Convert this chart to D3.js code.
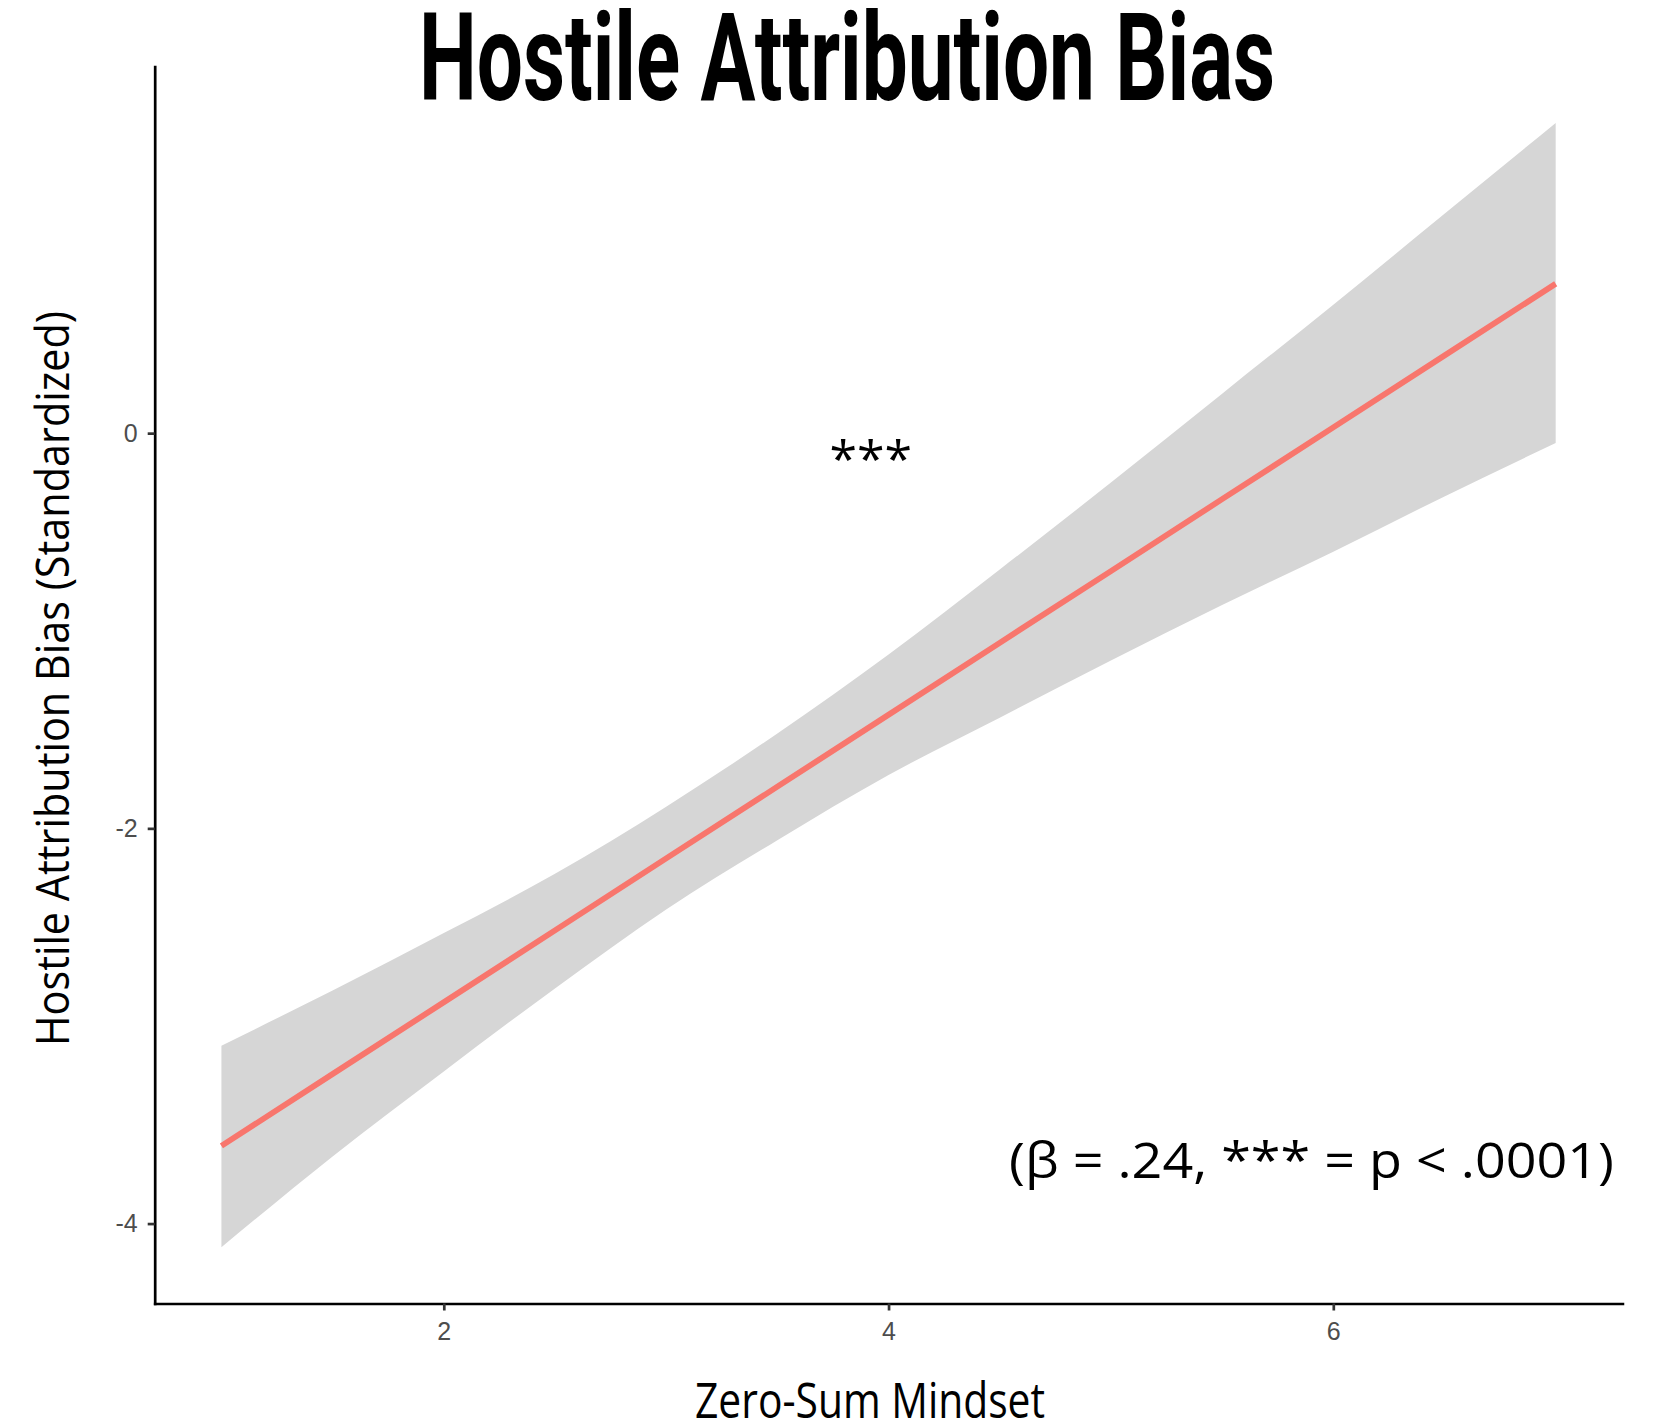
<!DOCTYPE html>
<html>
<head>
<meta charset="utf-8">
<script src="https://cdn.jsdelivr.net/npm/d3@7/dist/d3.min.js"></script>
<style>
  html, body { margin: 0; padding: 0; background: #ffffff; }
  svg { display: block; }
</style>
</head>
<body>
<svg id="chart" width="1656" height="1428"></svg>
<script>
// ---- data ----
const xValues     = [1, 1.5, 2, 2.5, 3, 3.5, 4, 4.5, 5, 5.5, 6, 6.5, 7];
const fitValues   = [-3.607, -3.243, -2.880, -2.516, -2.152, -1.789, -1.425, -1.061, -0.698, -0.334, 0.029, 0.393, 0.756];
const upperValues = [-3.10, -2.82, -2.53, -2.23, -1.89, -1.52, -1.12, -0.69, -0.25, 0.20, 0.65, 1.11, 1.57];
const lowerValues = [-4.12, -3.66, -3.23, -2.81, -2.41, -2.06, -1.73, -1.44, -1.15, -0.87, -0.60, -0.32, -0.05];
const xTicks = [2, 4, 6];
const yTicks = [-4, -2, 0];
const titleText = "Hostile Attribution Bias";
const xTitle = "Zero-Sum Mindset";
const yTitle = "Hostile Attribution Bias (Standardized)";
const starsText = "***";
const starsPos = [3.92, -0.22];
const noteText = "(\u03B2 = .24, *** = p < .0001)";

// ---- layout ----
const panel = { left: 154.7, right: 1622.4, top: 66.7, bottom: 1303.5 };

const rows = xValues.map((x, i) => ({ x, fit: fitValues[i], lo: lowerValues[i], hi: upperValues[i] }));

function expand(ext, f) { const d = (ext[1] - ext[0]) * f; return [ext[0] - d, ext[1] + d]; }
const xScale = d3.scaleLinear()
  .domain(expand(d3.extent(xValues), 0.05))
  .range([panel.left, panel.right]);
const yScale = d3.scaleLinear()
  .domain(expand([d3.min(lowerValues), d3.max(upperValues)], 0.05))
  .range([panel.bottom, panel.top]);

const svg = d3.select("#chart");
svg.append("rect").attr("width", 1656).attr("height", 1428).attr("fill", "#ffffff");

// confidence band
svg.append("path")
  .datum(rows)
  .attr("d", d3.area()
    .x(d => xScale(d.x))
    .y0(d => yScale(d.lo))
    .y1(d => yScale(d.hi))
    .curve(d3.curveMonotoneX))
  .attr("fill", "#D6D6D6");

// fitted line
svg.append("path")
  .datum(rows)
  .attr("d", d3.line().x(d => xScale(d.x)).y(d => yScale(d.fit)))
  .attr("fill", "none")
  .attr("stroke", "#F8766D")
  .attr("stroke-width", 5.8);

// axes
const tickFont = "'Liberation Sans', Arial, Helvetica, sans-serif";
const gx = svg.append("g")
  .attr("transform", `translate(0,${panel.bottom})`)
  .call(d3.axisBottom(xScale).tickValues(xTicks).tickFormat(d3.format("d"))
    .tickSize(7).tickSizeOuter(0).tickPadding(12));
const gy = svg.append("g")
  .attr("transform", `translate(${panel.left},0)`)
  .call(d3.axisLeft(yScale).tickValues(yTicks).tickFormat(d => d < 0 ? "-" + Math.abs(d) : String(d))
    .tickSize(7).tickSizeOuter(0).tickPadding(10));

[gx, gy].forEach(g => {
  g.select(".domain").attr("stroke", "#000000").attr("stroke-width", 2.7).attr("stroke-linecap", "square");
  g.selectAll(".tick line").attr("stroke", "#333333").attr("stroke-width", 2.7);
  g.selectAll(".tick text").attr("fill", "#4D4D4D").attr("font-family", tickFont).attr("font-size", 25);
});

// titles (condensed face emulated with textLength)
const condensed = "'Open Sans', 'Noto Sans', Lato, sans-serif";

svg.append("text")
  .attr("x", 419).attr("y", 100)
  .attr("font-family", "Roboto, 'Liberation Sans', sans-serif")
  .attr("font-weight", 700)
  .attr("font-size", 122)
  .attr("textLength", 856)
  .attr("lengthAdjust", "spacingAndGlyphs")
  .attr("fill", "#000")
  .text(titleText);

svg.append("text")
  .attr("x", 695).attr("y", 1418)
  .attr("font-family", condensed)
  .attr("font-size", 49)
  .attr("textLength", 350)
  .attr("lengthAdjust", "spacingAndGlyphs")
  .attr("fill", "#000")
  .text(xTitle);

svg.append("text")
  .attr("transform", "translate(69,1046) rotate(-90)")
  .attr("x", 0).attr("y", 0)
  .attr("font-family", condensed)
  .attr("font-size", 45)
  .attr("textLength", 735)
  .attr("lengthAdjust", "spacingAndGlyphs")
  .attr("fill", "#000")
  .text(yTitle);

// annotations
svg.append("text")
  .attr("x", xScale(starsPos[0])).attr("y", yScale(starsPos[1]))
  .attr("font-family", condensed)
  .attr("font-size", 50)
  .attr("text-anchor", "middle")
  .attr("fill", "#000")
  .text(starsText);

svg.append("text")
  .attr("x", 1009).attr("y", 1178)
  .attr("font-family", condensed)
  .attr("font-size", 50)
  .attr("textLength", 605)
  .attr("lengthAdjust", "spacingAndGlyphs")
  .attr("fill", "#000")
  .text(noteText);
</script>
</body>
</html>
